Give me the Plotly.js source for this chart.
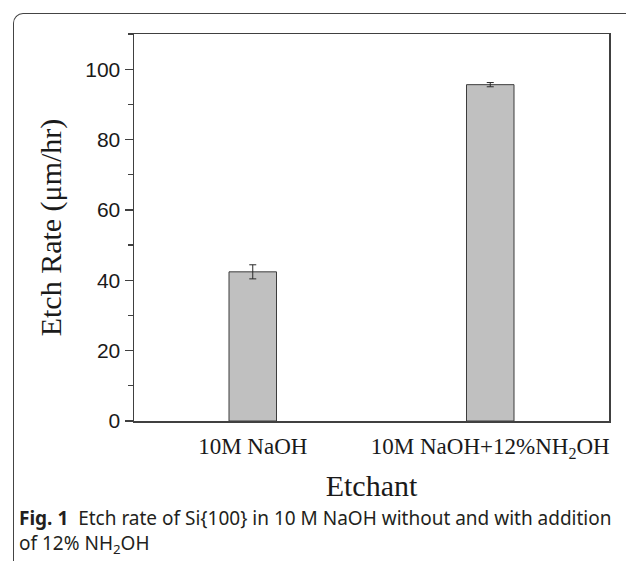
<!DOCTYPE html>
<html><head><meta charset="utf-8">
<script src="https://cdn.plot.ly/plotly-3.0.1.min.js"></script>
<style>
html,body{margin:0;padding:0;background:#fff;}
#wrap{position:relative;width:626px;height:561px;overflow:hidden;}
#frame{position:absolute;left:13px;top:13px;width:700px;height:700px;border-top:1.5px solid #444;border-left:1.5px solid #444;border-top-left-radius:10px;pointer-events:none;}
</style>
</head><body>
<div id="wrap"><div id="chart"></div><div id="frame"></div></div>
<script>
const categories = ['10M NaOH', '10M NaOH+12%NH<sub>2</sub>OH'];
const etchRate = [42.4, 95.6];
const etchErr = [2.0, 0.6];
const yTicks = [0, 20, 40, 60, 80, 100];
const yRange = [0, 110];
const xTitle = 'Etchant';
const yTitle = 'Etch Rate (\u03bcm/hr)';
const captionLine1 = '<b>Fig. 1</b>  Etch rate of Si{100} in 10 M NaOH without and with addition';
const captionLine2 = 'of 12% NH<sub>2</sub>OH';

const W = 626, H = 561;
const M = {l: 134, r: 17, t: 34, b: 140};
const pw = W - M.l - M.r, ph = H - M.t - M.b;
const px = x => (x - M.l) / pw;
const py = y => (H - M.b - y) / ph;

const trace = {
  type: 'bar',
  x: categories,
  y: etchRate,
  width: 0.2,
  marker: {color: '#c0c0c0', line: {color: '#3c3c3c', width: 1}},
  error_y: {type: 'data', array: etchErr, visible: true, color: '#2a2a2a', thickness: 1, width: 3.5},
  hoverinfo: 'skip'
};

const serif = 'Liberation Serif, Times New Roman, serif';
const capFont = {family: 'Noto Sans, Open Sans, sans-serif', size: 19, color: '#231f20'};
const layout = {
  width: W, height: H,
  margin: M,
  paper_bgcolor: '#fff', plot_bgcolor: '#fff',
  showlegend: false,
  xaxis: {
    type: 'category', range: [-0.5, 1.5],
    showline: true, mirror: true, linecolor: '#404040', linewidth: 1.5,
    ticks: '', showgrid: false, zeroline: false,
    tickfont: {family: serif, size: 23, color: '#1a1a1a'},
    ticklabelstandoff: 4,
    title: {text: xTitle, font: {family: serif, size: 30, color: '#1a1a1a'}, standoff: 14}
  },
  yaxis: {
    range: yRange, tickvals: yTicks,
    showline: true, mirror: true, linecolor: '#404040', linewidth: 1.5,
    ticks: 'outside', ticklen: 8, tickwidth: 1.2, tickcolor: '#404040',
    minor: {dtick: 10, ticks: 'outside', ticklen: 5, tickwidth: 1.2, tickcolor: '#404040', showgrid: false},
    showgrid: false, zeroline: false,
    tickfont: {family: 'Liberation Sans, Arial, sans-serif', size: 21, color: '#1a1a1a'},
    title: {text: yTitle, font: {family: serif, size: 30, color: '#1a1a1a'}, standoff: 15}
  },
  annotations: [
    {text: captionLine1 + '<br>' + captionLine2, xref: 'paper', yref: 'paper', x: px(17), y: py(531), xanchor: 'left', yanchor: 'middle', align: 'left', showarrow: false, font: capFont}
  ]
};

Plotly.newPlot('chart', [trace], layout, {displayModeBar: false, staticPlot: true});
</script>
</body></html>
